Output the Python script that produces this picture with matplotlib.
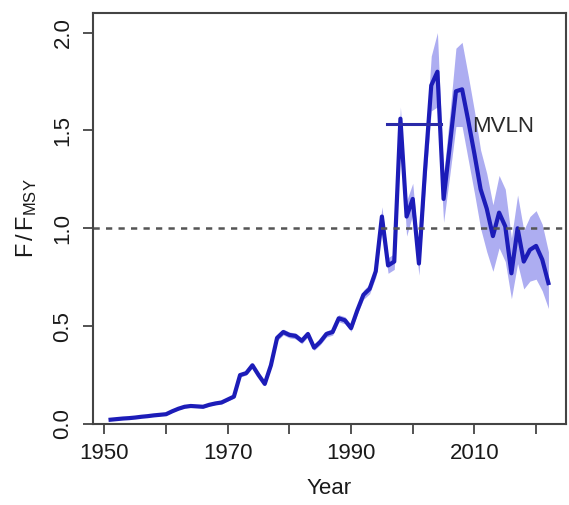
import matplotlib
matplotlib.use("Agg")
import matplotlib.pyplot as plt
from matplotlib.lines import Line2D
import numpy as np

plt.rcParams['font.family'] = ['Liberation Sans', 'DejaVu Sans']
plt.rcParams['mathtext.fontset'] = 'custom'
plt.rcParams['mathtext.rm'] = 'Liberation Sans'
plt.rcParams['mathtext.it'] = 'Liberation Sans'

years = list(range(1951, 2023))
f_fmsy = [0.022, 0.025, 0.028, 0.030, 0.033, 0.037, 0.040, 0.044, 0.047, 0.050,
          0.065, 0.078, 0.088, 0.092, 0.090, 0.088, 0.098, 0.105, 0.110, 0.125,
          0.140, 0.250, 0.260, 0.300, 0.250, 0.205, 0.300, 0.440, 0.470, 0.455,
          0.450, 0.425, 0.460, 0.390, 0.420, 0.460, 0.470, 0.540, 0.530, 0.490,
          0.580, 0.660, 0.690, 0.780, 1.060, 0.810, 0.830, 1.560, 1.060, 1.150,
          0.820, 1.300, 1.730, 1.800, 1.150, 1.420, 1.700, 1.710, 1.550, 1.380,
          1.200, 1.100, 0.960, 1.080, 1.010, 0.770, 1.000, 0.830, 0.890, 0.910,
          0.840, 0.720]
lower = [0.018, 0.021, 0.024, 0.026, 0.029, 0.033, 0.036, 0.040, 0.043, 0.046,
         0.060, 0.073, 0.082, 0.086, 0.084, 0.082, 0.092, 0.099, 0.103, 0.118,
         0.132, 0.240, 0.250, 0.288, 0.240, 0.195, 0.288, 0.425, 0.455, 0.440,
         0.435, 0.410, 0.445, 0.376, 0.405, 0.444, 0.454, 0.522, 0.512, 0.473,
         0.560, 0.637, 0.665, 0.750, 1.000, 0.770, 0.790, 1.480, 0.960, 1.070,
         0.760, 1.200, 1.600, 1.620, 1.030, 1.270, 1.520, 1.520, 1.350, 1.180,
         1.000, 0.880, 0.780, 0.900, 0.830, 0.640, 0.820, 0.690, 0.730, 0.740,
         0.680, 0.590]
upper = [0.026, 0.029, 0.032, 0.034, 0.037, 0.041, 0.044, 0.048, 0.051, 0.055,
         0.070, 0.083, 0.094, 0.098, 0.096, 0.094, 0.104, 0.111, 0.117, 0.132,
         0.148, 0.260, 0.270, 0.312, 0.260, 0.215, 0.312, 0.455, 0.485, 0.470,
         0.465, 0.440, 0.475, 0.404, 0.435, 0.476, 0.486, 0.558, 0.548, 0.507,
         0.600, 0.683, 0.715, 0.810, 1.110, 0.850, 0.870, 1.620, 1.140, 1.230,
         0.880, 1.400, 1.880, 2.000, 1.270, 1.580, 1.920, 1.950, 1.780, 1.600,
         1.400, 1.280, 1.120, 1.270, 1.200, 0.950, 1.170, 0.990, 1.060, 1.090,
         1.020, 0.880]
xticks = [1950, 1960, 1970, 1980, 1990, 2000, 2010, 2020]
xticklabels = ['1950', '', '1970', '', '1990', '', '2010', '']
yticks = [0.0, 0.5, 1.0, 1.5, 2.0]
series_name = 'MVLN'

fig = plt.figure(figsize=(5.69, 5.05), dpi=100)
ax = fig.add_axes([93/569, 1 - 424/505, (566 - 93)/569, (424 - 13)/505])

line_col = '#1c1cb8'
band_col = '#a4a4f0'
text_col = '#1a1a1a'

ax.fill_between(years, lower, upper, color=band_col, alpha=0.9, linewidth=0)
ax.plot(years, f_fmsy, color=line_col, lw=3.0, solid_joinstyle='round')
ax.axhline(1.0, color='#555555', lw=1.8, ls=(0, (2.5, 2.5)))

ax.set_xlim(1948.15, 2024.85)
ax.set_ylim(0, 2.1)
ax.set_xticks(xticks)
ax.set_xticklabels(xticklabels)
ax.set_yticks(yticks)
ax.set_yticklabels([f'{v:.1f}' for v in yticks], rotation=90, va='center')

ax.tick_params(axis='both', direction='out', length=7, width=1.3,
               color='#444444', labelsize=16, labelcolor=text_col, pad=7)
for s in ax.spines.values():
    s.set_color('#444444')
    s.set_linewidth(1.5)

ax.set_xlabel('Year', fontsize=16, color=text_col, labelpad=10)
ax.set_ylabel(r'$\mathrm{F\,/\,F_{MSY}}$', fontsize=17, color=text_col, labelpad=10)

handle = Line2D([], [], color='#2a2aa8', lw=2.2)
ax.legend([handle], [series_name], loc='center left',
          bbox_to_anchor=(1995.9, 1.52), bbox_transform=ax.transData,
          frameon=False, fontsize=16, handlelength=2.4, handletextpad=1.4,
          borderpad=0, borderaxespad=0, labelcolor='#2a2a2a')

fig.savefig('out.png', dpi=100)
